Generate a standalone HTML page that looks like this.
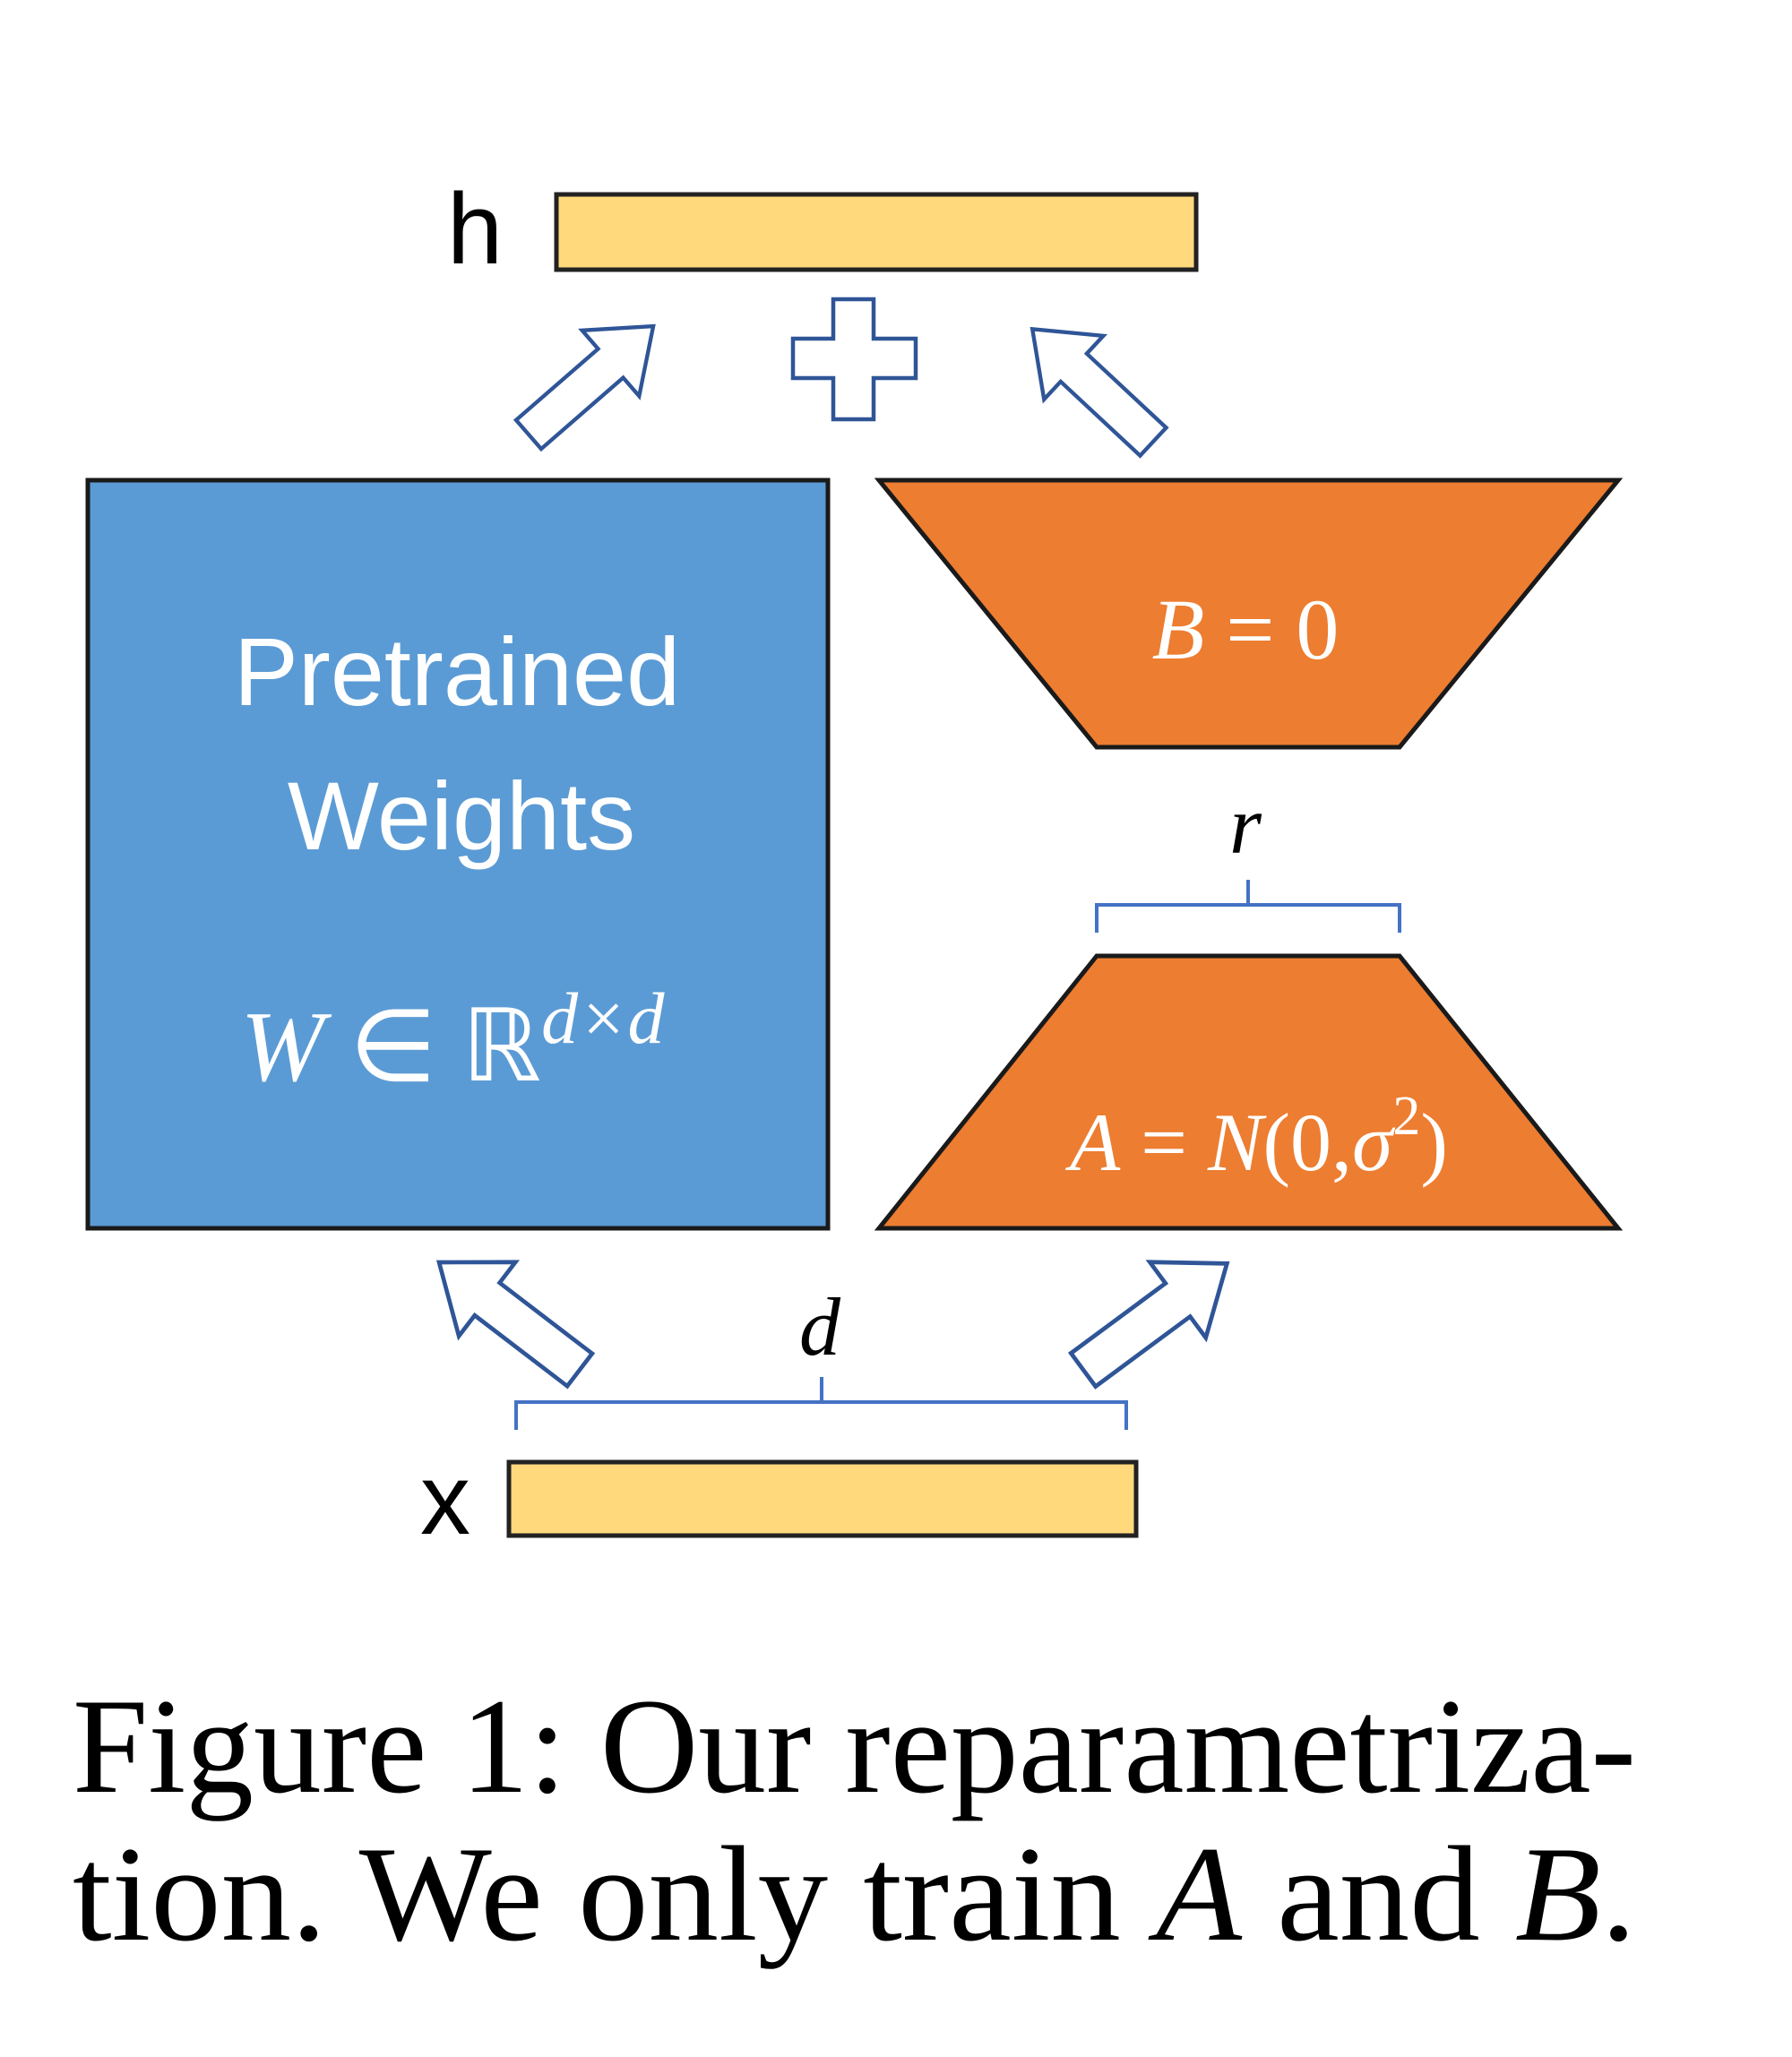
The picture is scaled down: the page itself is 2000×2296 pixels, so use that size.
<!DOCTYPE html>
<html><head><meta charset="utf-8"><style>
html,body{margin:0;padding:0;background:#fff;}
svg{display:block;}
</style></head><body>
<svg width="2000" height="2296" viewBox="0 0 2000 2296" xmlns="http://www.w3.org/2000/svg">
<defs>
<polygon id="arr" points="0,-22 125,-22 125,-50 190,0 125,50 125,22 0,22" fill="#fff" stroke="#2F5597" stroke-width="4.5" stroke-linejoin="miter"/>
</defs>
<rect x="0" y="0" width="2000" height="2296" fill="#fff"/>
<!-- h -->
<text x="530" y="294" font-family="Liberation Sans, sans-serif" font-size="112" text-anchor="middle" fill="#000">h</text>
<rect x="621" y="217" width="714" height="84" fill="#FFD97C" stroke="#222" stroke-width="5"/>
<!-- plus -->
<polygon points="930,334 975,334 975,378 1022,378 1022,422 975,422 975,468 930,468 930,422 885,422 885,378 930,378" fill="#fff" stroke="#2F5597" stroke-width="4.5"/>
<!-- arrows -->
<use href="#arr" transform="translate(590,485) rotate(-41) scale(0.97)"/>
<use href="#arr" transform="translate(1287,493) rotate(-137) scale(0.97)"/>
<use href="#arr" transform="translate(647,1529) rotate(-142.6) scale(1.04)"/>
<use href="#arr" transform="translate(1209,1529) rotate(-36.5) scale(1.05)"/>
<!-- blue box -->
<rect x="98" y="536" width="826" height="835" fill="#5B9BD5" stroke="#1a1a1a" stroke-width="5"/>
<text x="510" y="787" font-family="Liberation Sans, sans-serif" font-size="108" text-anchor="middle" fill="#fff">Pretrained</text>
<text x="515" y="948" font-family="Liberation Sans, sans-serif" font-size="108" text-anchor="middle" fill="#fff">Weights</text>
<text x="505" y="1206" font-family="Liberation Serif, serif" font-size="112" text-anchor="middle" fill="#fff"><tspan font-style="italic">W</tspan> ∈ ℝ<tspan font-style="italic" font-size="82" dy="-42">d×d</tspan></text>
<!-- B trapezoid -->
<polygon points="981,536 1806,536 1562,834 1224,834" fill="#ED7D31" stroke="#1a1a1a" stroke-width="5" stroke-linejoin="miter"/>
<text x="1390" y="735" font-family="Liberation Serif, serif" font-size="96" text-anchor="middle" fill="#fff"><tspan font-style="italic">B</tspan> = 0</text>
<!-- r brace -->
<text x="1390" y="952" font-family="Liberation Serif, serif" font-style="italic" font-size="92" text-anchor="middle" fill="#000">r</text>
<path d="M1224,1041 V1010 H1562 V1041 M1393,1010 V982" fill="none" stroke="#4472C4" stroke-width="4"/>
<!-- A trapezoid -->
<polygon points="1224,1067 1562,1067 1806,1371 981,1371" fill="#ED7D31" stroke="#1a1a1a" stroke-width="5" stroke-linejoin="miter"/>
<text x="1405" y="1306" font-family="Liberation Serif, serif" font-size="92" text-anchor="middle" fill="#fff"><tspan font-style="italic">A</tspan> = <tspan font-style="italic">N</tspan>(0,<tspan font-style="italic">σ</tspan><tspan font-size="62" dy="-40">2</tspan><tspan dy="40">)</tspan></text>
<!-- d brace -->
<text x="915" y="1512" font-family="Liberation Serif, serif" font-style="italic" font-size="92" text-anchor="middle" fill="#000">d</text>
<path d="M576,1596 V1565 H1257 V1596 M917,1565 V1537" fill="none" stroke="#4472C4" stroke-width="4"/>
<!-- x -->
<text x="497" y="1712" font-family="Liberation Sans, sans-serif" font-size="112" text-anchor="middle" fill="#000">x</text>
<rect x="568" y="1632" width="700" height="82" fill="#FFD97C" stroke="#222" stroke-width="5"/>
<!-- caption -->
<text x="81" y="2000" font-family="Liberation Serif, serif" font-size="152" fill="#000" textLength="1745" lengthAdjust="spacingAndGlyphs">Figure 1: Our reparametriza-</text>
<text x="81" y="2165" font-family="Liberation Serif, serif" font-size="152" fill="#000" textLength="1745" lengthAdjust="spacingAndGlyphs">tion. We only train <tspan font-style="italic">A</tspan> and <tspan font-style="italic">B</tspan>.</text>
</svg>
</body></html>
